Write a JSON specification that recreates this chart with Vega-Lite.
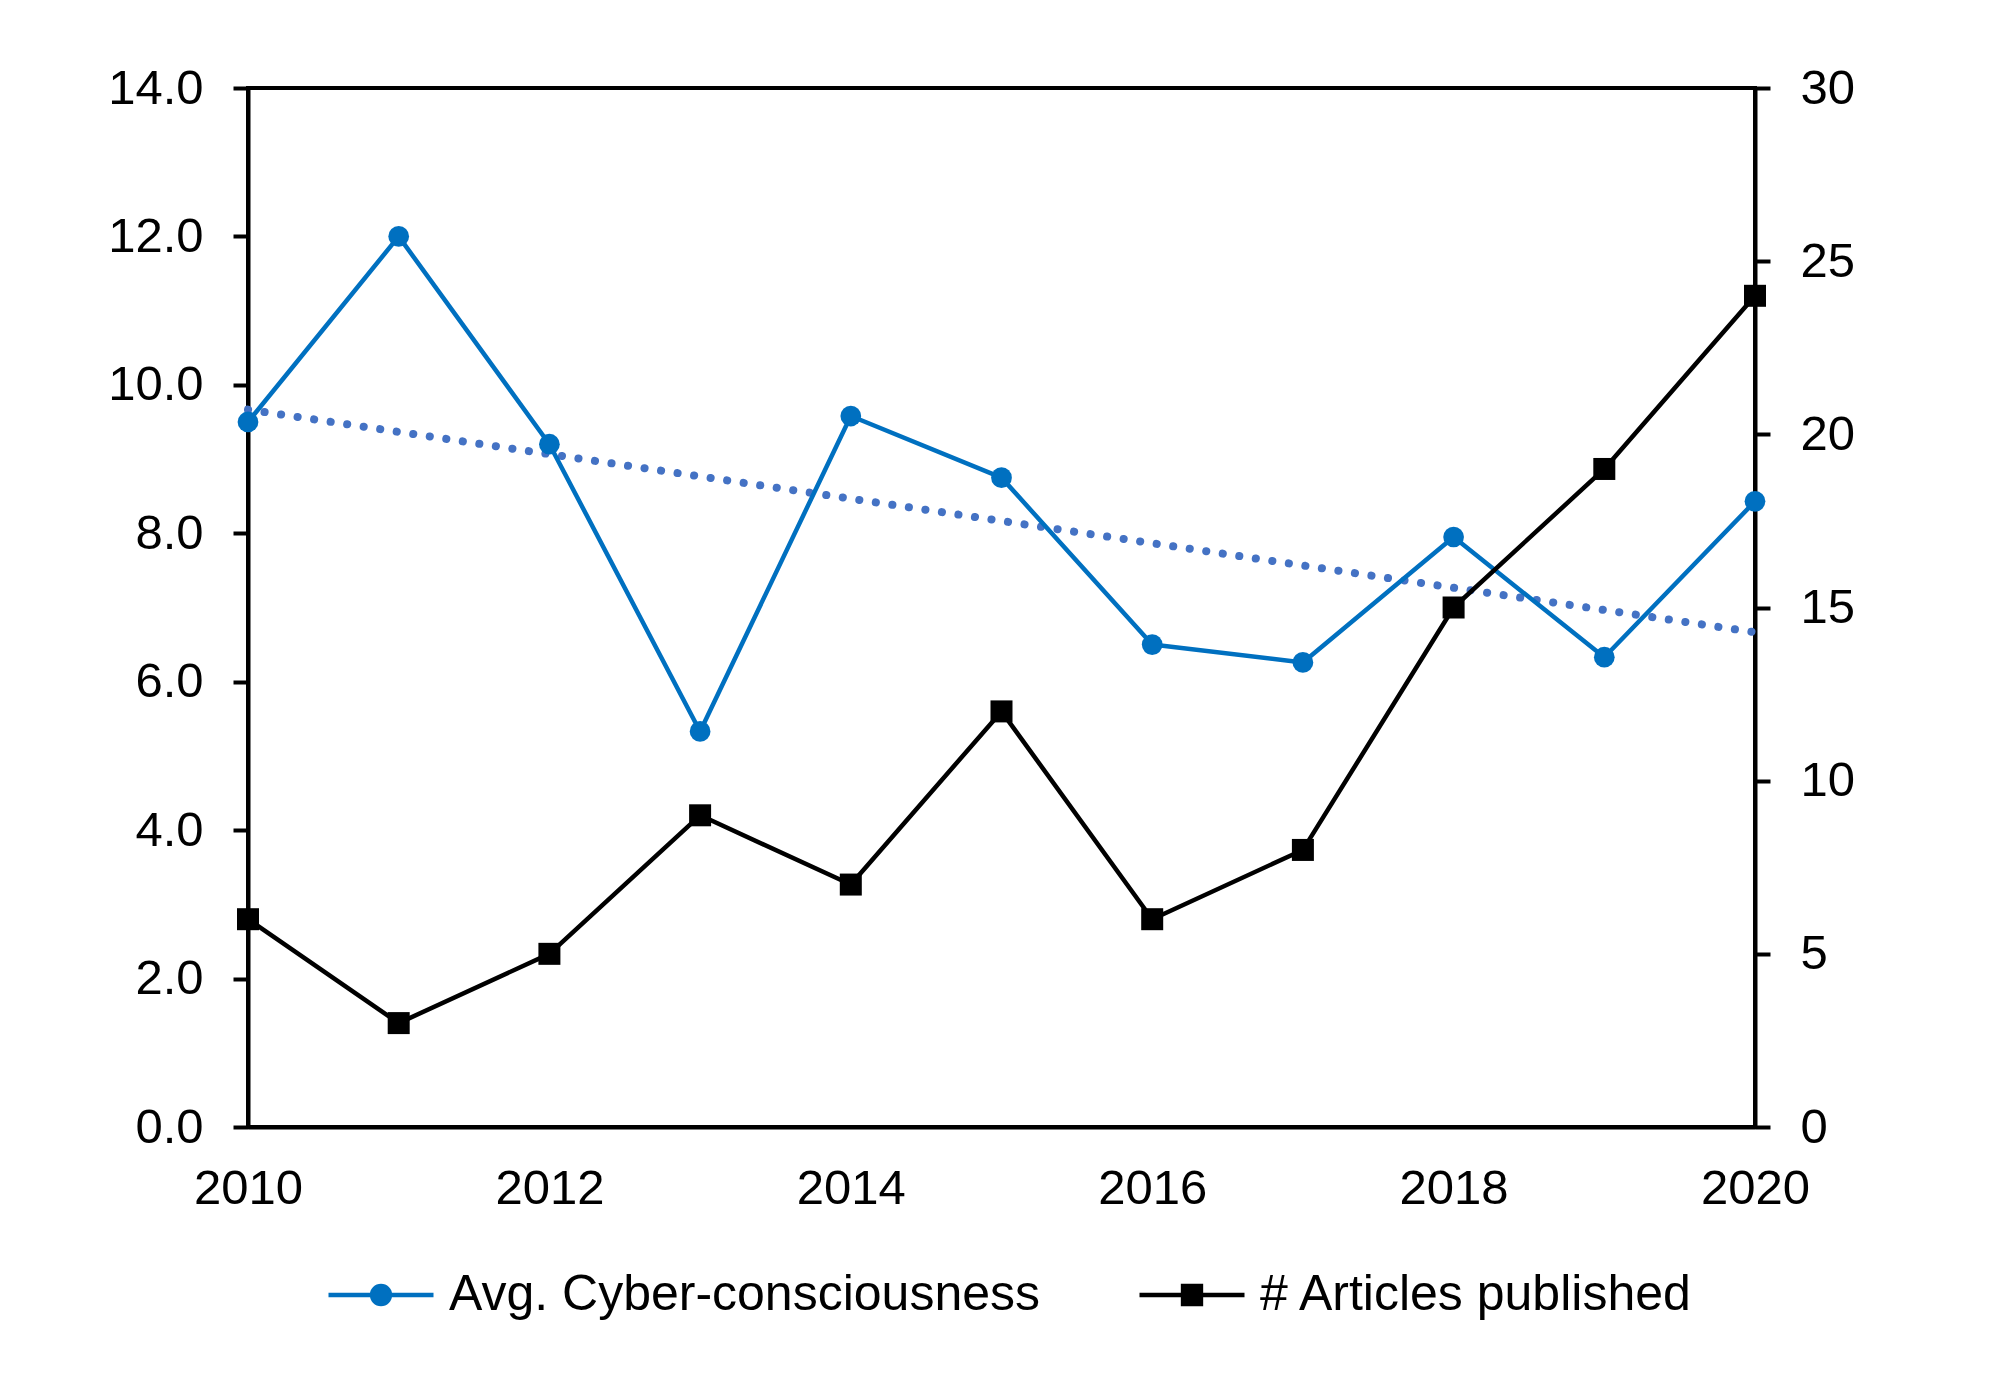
{
  "$schema": "https://vega.github.io/schema/vega-lite/v6.json",
  "width": 1507,
  "height": 1039,
  "autosize": {"type": "none"},
  "padding": {"left": 248, "top": 88, "right": 245, "bottom": 273},
  "background": "white",
  "data": {
    "values": [
      {"year": 2010, "cyber": 9.5, "articles": 6},
      {"year": 2011, "cyber": 12.0, "articles": 3},
      {"year": 2012, "cyber": 9.2, "articles": 5},
      {"year": 2013, "cyber": 5.33, "articles": 9},
      {"year": 2014, "cyber": 9.58, "articles": 7},
      {"year": 2015, "cyber": 8.75, "articles": 12},
      {"year": 2016, "cyber": 6.5, "articles": 6},
      {"year": 2017, "cyber": 6.26, "articles": 8},
      {"year": 2018, "cyber": 7.95, "articles": 15},
      {"year": 2019, "cyber": 6.33, "articles": 19},
      {"year": 2020, "cyber": 8.43, "articles": 24}
    ]
  },
  "encoding": {
    "x": {
      "field": "year",
      "type": "quantitative",
      "scale": {"domain": [2010, 2020], "nice": false, "zero": false},
      "axis": {
        "title": null,
        "values": [2010, 2012, 2014, 2016, 2018, 2020],
        "format": "d",
        "ticks": false,
        "tickSize": 0,
        "labelPadding": 37,
        "labelFlush": false,
        "labelOverlap": false
      }
    }
  },
  "layer": [
    {
      "transform": [{"regression": "cyber", "on": "year"}],
      "mark": {"type": "line", "color": "#4472C4", "strokeWidth": 8, "strokeDash": [0.1, 16.6], "strokeCap": "round"},
      "encoding": {
        "y": {"field": "cyber", "type": "quantitative", "scale": {"domain": [0, 14], "nice": false}, "axis": null}
      }
    },
    {
      "mark": {"type": "line", "strokeWidth": 4.5, "strokeJoin": "round", "point": {"filled": true, "size": 430, "opacity": 1}},
      "encoding": {
        "y": {
          "field": "cyber",
          "type": "quantitative",
          "scale": {"domain": [0, 14], "nice": false},
          "axis": {"orient": "left", "title": null, "values": [0, 2, 4, 6, 8, 10, 12, 14], "format": ".1f"}
        },
        "color": {
          "datum": "Avg. Cyber-consciousness",
          "type": "nominal",
          "scale": {"domain": ["Avg. Cyber-consciousness", "# Articles published"], "range": ["#0070C0", "#000000"]},
          "legend": {
            "title": null,
            "orient": "none",
            "legendX": 78,
            "legendY": 1152,
            "direction": "horizontal",
            "padding": 0,
            "symbolSize": 11025,
            "symbolStrokeWidth": 4.5,
            "symbolType": "M-1,0L1,0",
            "labelFont": "Liberation Sans",
            "labelFontSize": 50,
            "labelColor": "black",
            "labelLimit": 0,
            "labelOffset": 13,
            "columnPadding": 89,
            "encode": {
              "symbols": {
                "update": {
                  "shape": {"signal": "datum.value === 'Avg. Cyber-consciousness' ? 'M-1,0L1,0M-0.17,0A0.17,0.17 0 1,1 0.17,0A0.17,0.17 0 1,1 -0.17,0Z' : 'M-1,0L1,0M-0.17,-0.17L0.17,-0.17L0.17,0.17L-0.17,0.17Z'"},
                  "fill": {"signal": "datum.value === 'Avg. Cyber-consciousness' ? '#0070C0' : '#000000'"},
                  "stroke": {"signal": "datum.value === 'Avg. Cyber-consciousness' ? '#0070C0' : '#000000'"},
                  "strokeWidth": {"value": 4.5},
                  "opacity": {"value": 1}
                }
              }
            }
          }
        }
      }
    },
    {
      "mark": {"type": "line", "strokeWidth": 4.5, "strokeJoin": "round", "point": {"shape": "square", "filled": true, "size": 484, "opacity": 1}},
      "encoding": {
        "y": {
          "field": "articles",
          "type": "quantitative",
          "scale": {"domain": [0, 30], "nice": false},
          "axis": {"orient": "right", "title": null, "values": [0, 5, 10, 15, 20, 25, 30], "format": "d"}
        },
        "color": {"datum": "# Articles published", "type": "nominal"}
      }
    }
  ],
  "resolve": {"scale": {"y": "independent"}},
  "config": {
    "view": {"stroke": "black", "strokeWidth": 4},
    "axis": {
      "grid": false,
      "labelFont": "Liberation Sans",
      "labelFontSize": 49,
      "labelColor": "black",
      "domainColor": "black",
      "domainWidth": 4,
      "tickColor": "black",
      "tickWidth": 4,
      "tickSize": 15,
      "labelPadding": 30
    }
  }
}
